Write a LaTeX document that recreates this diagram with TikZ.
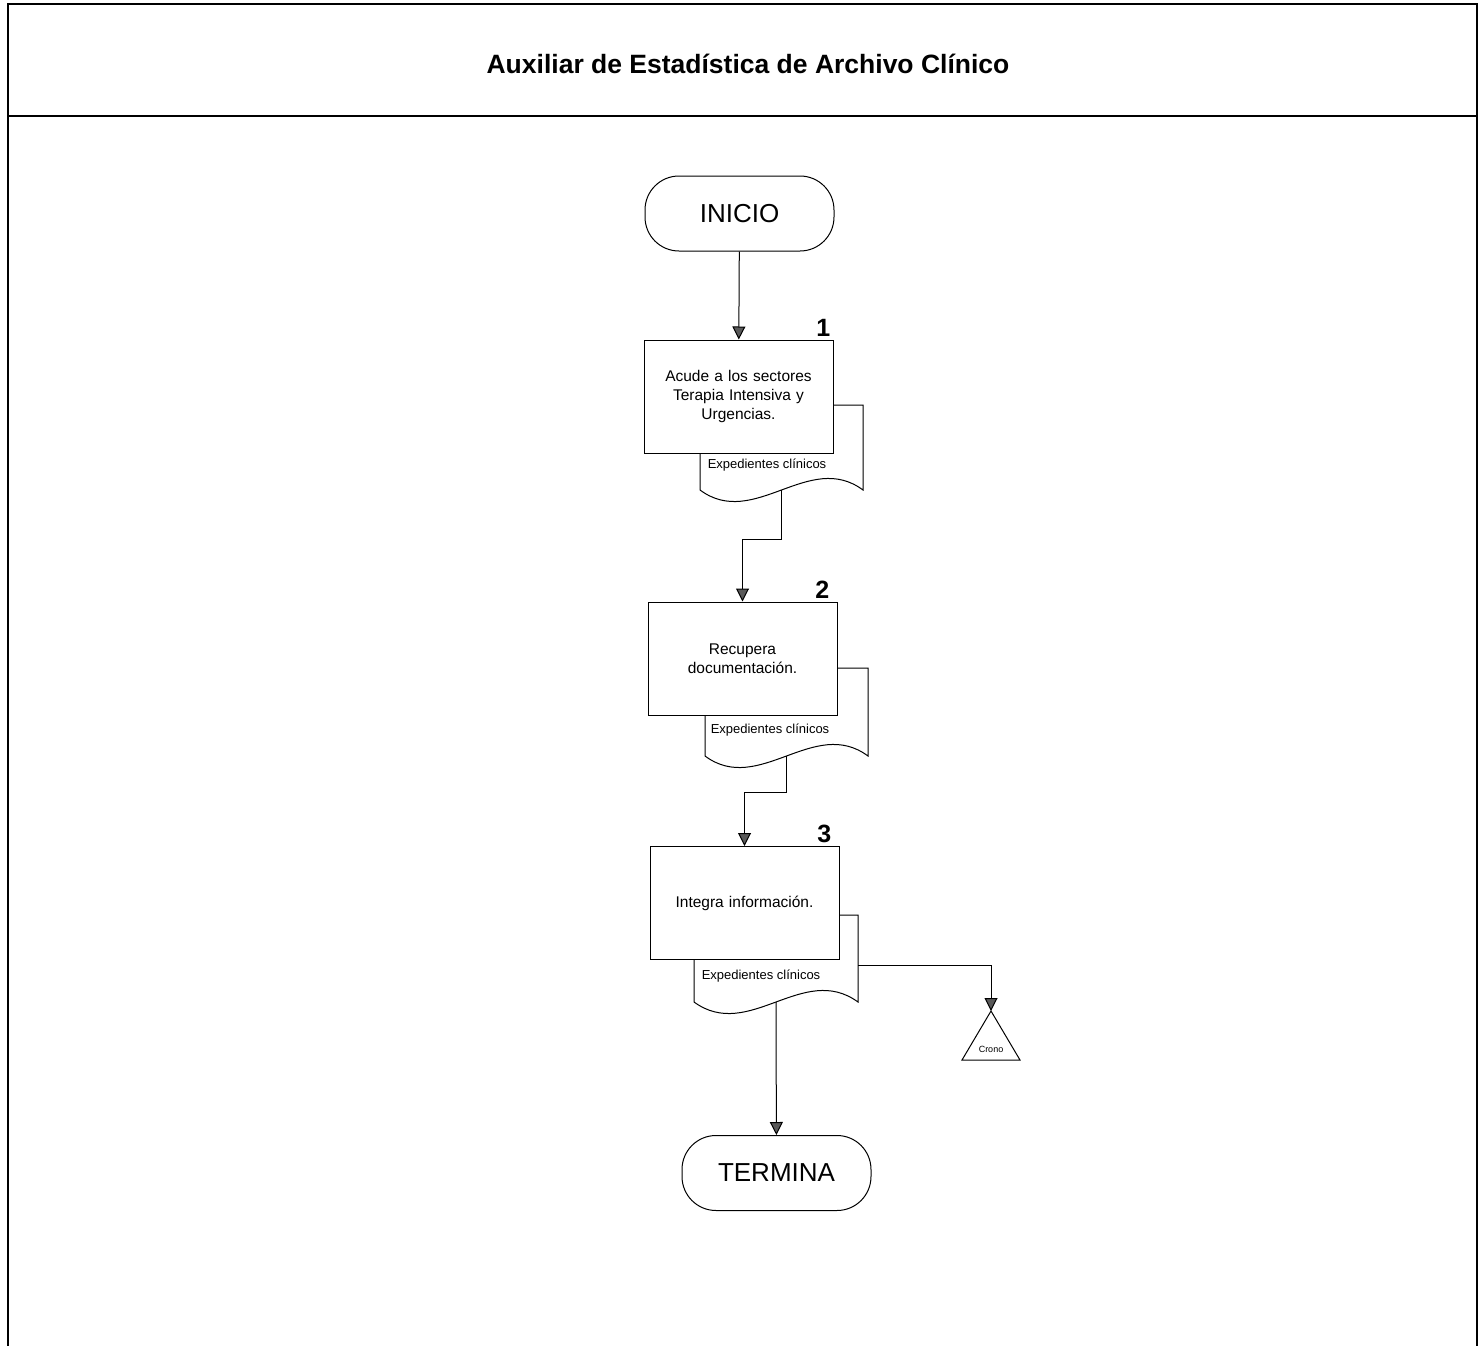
\documentclass[tikz,border=0pt]{standalone}
\usepackage{fontspec}
\setmainfont{Liberation Sans}
\usepackage{tikz}
\usetikzlibrary{arrows.meta,calc}

\tikzset{
  terminal/.style={draw, rounded corners=34pt, minimum width=189pt, minimum height=75pt,
    font=\fontsize{26}{30}\selectfont, line width=1pt},
  proceso/.style={draw, fill=white, minimum width=189pt, minimum height=113pt,
    text width=165pt, align=center, font=\fontsize{15.5}{19}\selectfont, line width=1pt},
  docu/.style={draw, fill=white, line width=1pt},
  etiqueta/.style={font=\fontsize{13}{15}\selectfont},
  numero/.style={anchor=south east, inner sep=3pt, font=\bfseries\fontsize{25}{28}\selectfont},
  flecha/.style={-{Triangle[width=13pt,length=13pt,fill=black!65]}, line width=1pt}
}

\begin{document}
\begin{tikzpicture}[x=1pt, y=-1pt, >=Latex]
  \useasboundingbox (0,0) rectangle (1484,1346);
  % marco
  \draw[line width=2pt] (8,1346) -- (8,4) -- (1477,4) -- (1477,1346);
  \draw[line width=2pt] (8,116) -- (1477,116);
  \node[font=\bfseries\fontsize{26.5}{30}\selectfont] (titulo) at (748,64) {Auxiliar de Estadística de Archivo Clínico};

  % documentos
  \draw[docu] (700,405) -- (863,405) -- (863,490) .. controls (809,450) and (754,530) .. (700,490) coordinate[pos=0.5] (d1b) -- cycle;
  \draw[docu] (705,668) -- (868,668) -- (868,756) .. controls (814,716) and (759,796) .. (705,756) coordinate[pos=0.5] (d2b) -- cycle;
  \draw[docu] (694,915) -- (858,915) -- (858,1002) .. controls (803,962) and (749,1042) .. (694,1002) coordinate[pos=0.5] (d3b) -- cycle;
  \coordinate (d3r) at (858,965);

  % pasos
  \node[terminal] (inicio) at (739.5,213.5) {INICIO};
  \node[proceso] (caja1) at (738.5,396.5) {Acude a los sectores\\ Terapia Intensiva y\\ Urgencias.};
  \node[proceso] (caja2) at (742.5,658.5) {Recupera\\ documentación.};
  \node[proceso] (caja3) at (744.5,903) {Integra información.};
  \node[terminal] (termina) at (776.5,1173) {TERMINA};

  \node[numero, xshift=0pt] (n1) at (caja1.north east) {1};
  \node[numero, xshift=-5pt] (n2) at (caja2.north east) {2};
  \node[numero, xshift=-5pt] (n3) at (caja3.north east) {3};

  \node[etiqueta] (e1) at (767,465) {Expedientes clínicos};
  \node[etiqueta] (e2) at (770,730) {Expedientes clínicos};
  \node[etiqueta] (e3) at (761,976) {Expedientes clínicos};

  % archivo
  \draw[line width=1pt] (991,1011) coordinate (crono) -- (1020,1060) -- (962,1060) -- cycle;
  \node[font=\fontsize{9}{10}\selectfont] (cronot) at (991,1049) {Crono};

  % conexiones
  \draw[flecha] (inicio) -- (caja1);
  \draw[flecha] (d1b) -- ++(0,49) -| (caja2.north);
  \draw[flecha] (d2b) -- ++(0,36) -| (caja3.north);
  \draw[flecha] (d3r) -| (crono);
  \draw[flecha] (d3b) -- (termina);
\end{tikzpicture}
\end{document}
